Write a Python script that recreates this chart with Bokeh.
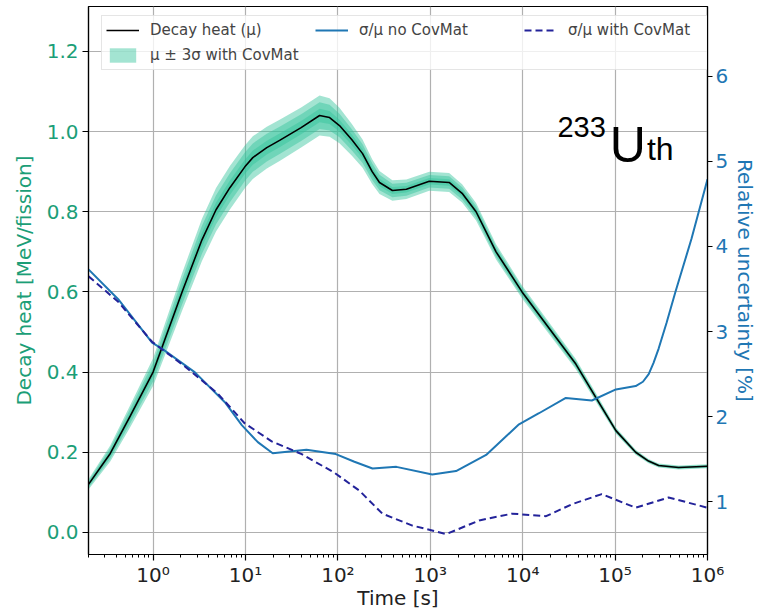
import numpy as np
from bokeh.plotting import figure
from bokeh.models import (Range1d, LinearAxis, FixedTicker, PrintfTickFormatter,
                          Legend, LegendItem, Label)
from bokeh.embed import file_html
from bokeh.resources import INLINE

# ---------------- data ----------------
time_heat = [0.2, 0.344, 0.565, 1.0, 2.06, 3.38, 4.8, 6.78, 9.84, 12, 17, 23.4, 40, 63.4, 81.3,
             104, 141, 185, 235, 282, 389, 551, 975, 1600, 2210, 3130, 5150, 9840, 20700,
             37600, 61800, 102000, 167000, 230000, 296000, 486000, 1000000]
decay_heat = [0.12, 0.197, 0.29, 0.40, 0.60, 0.73, 0.805, 0.86, 0.912, 0.935, 0.96, 0.978, 1.01,
              1.04, 1.035, 1.015, 0.98, 0.945, 0.90, 0.873, 0.853, 0.856, 0.876, 0.873, 0.846,
              0.80, 0.70, 0.60, 0.50, 0.42, 0.337, 0.254, 0.20, 0.178, 0.167, 0.162, 0.165]
# relative 1-sigma (%) used for the shaded band
heat_rel_sigma = [3.6, 3.4, 3.15, 2.9, 2.6, 2.4, 2.25, 2.1, 1.95, 1.9, 1.8, 1.75, 1.65, 1.6, 1.55,
                  1.45, 1.35, 1.25, 1.15, 1.1, 1.0, 0.95, 0.9, 0.9, 0.9, 0.9, 0.9, 0.9,
                  0.95, 1.0, 1.05, 1.05, 1.0, 1.0, 1.0, 1.0, 1.0]

time_nocov = [0.2, 0.419, 0.975, 1.28, 2.84, 5.98, 9.12, 13.6, 19.7, 45.7, 95, 151, 237,
              430, 1050, 1900, 4020, 9120, 15000, 29300, 56000, 102000, 167000, 200000,
              231000, 260000, 296000, 360000, 451000, 671000, 1000000]
sigma_nocov = [3.73, 3.38, 2.87, 2.79, 2.52, 2.17, 1.90, 1.70, 1.57, 1.61, 1.56, 1.47, 1.39,
               1.41, 1.32, 1.36, 1.55, 1.91, 2.04, 2.22, 2.19, 2.32, 2.36, 2.41,
               2.50, 2.63, 2.80, 3.10, 3.47, 4.09, 4.79]

time_cov = [0.2, 0.419, 0.975, 2.21, 5.02, 9.84, 19.2, 40.6, 92, 171, 303, 640, 1490, 3380,
            7670, 17900, 34000, 71800, 167000, 379000, 1000000]
sigma_cov = [3.65, 3.35, 2.88, 2.59, 2.27, 1.92, 1.71, 1.56, 1.34, 1.13, 0.86, 0.72, 0.62,
             0.78, 0.86, 0.83, 0.97, 1.09, 0.93, 1.05, 0.93]

x_ticks = [1, 10, 100, 1000, 10000, 100000, 1000000]
x_tick_labels = ["10⁰", "10¹", "10²", "10³", "10⁴", "10⁵", "10⁶"]
left_ticks = [0.0, 0.2, 0.4, 0.6, 0.8, 1.0, 1.2]
right_ticks = [1, 2, 3, 4, 5, 6]

# ---------------- styling ----------------
GREEN = "#1b9e77"
BLUE = "#1f77b4"
NAVY = "#23239a"
BAND = "#32c39b"
FONT = "DejaVu Sans"

th = np.array(time_heat)
mu = np.array(decay_heat)
rs = np.array(heat_rel_sigma) / 100.0

minor = [k * 10.0 ** e for e in range(-1, 6) for k in range(2, 10) if 0.2 <= k * 10.0 ** e <= 1e6]

p = figure(width=760, height=613, x_axis_type="log",
           x_range=Range1d(0.2, 1e6), y_range=Range1d(-0.055, 1.312),
           output_backend="svg", toolbar_location=None,
           min_border_left=88, min_border_right=51, min_border_top=6, min_border_bottom=59)
p.extra_y_ranges = {"rel": Range1d(0.38, 6.82)}

p.outline_line_color = "black"
p.outline_line_width = 1.2
p.background_fill_color = "white"

# grid
p.xgrid.grid_line_color = "#b0b0b0"
p.xgrid.grid_line_width = 1.2
p.ygrid.grid_line_color = "#b0b0b0"
p.ygrid.grid_line_width = 1.2

# x axis
xa = p.xaxis[0]
xa.ticker = FixedTicker(ticks=x_ticks, minor_ticks=minor)
xa.major_label_overrides = {t: l for t, l in zip(x_ticks, x_tick_labels)}
xa.axis_label = "Time [s]"

# left axis
ya = p.yaxis[0]
ya.ticker = FixedTicker(ticks=left_ticks)
ya.formatter = PrintfTickFormatter(format="%.1f")
ya.axis_label = "Decay heat [MeV/fission]"
ya.axis_label_text_color = GREEN
ya.major_label_text_color = GREEN

# right axis
ra = LinearAxis(y_range_name="rel", ticker=FixedTicker(ticks=right_ticks),
                axis_label="Relative uncertainty [%]")
ra.axis_label_text_color = BLUE
ra.major_label_text_color = BLUE
p.add_layout(ra, "right")

for ax in [xa, ya, ra]:
    ax.axis_line_color = "black"
    ax.axis_line_width = 1.2
    ax.major_tick_line_color = "black"
    ax.major_tick_line_width = 1.2
    ax.minor_tick_line_color = "black"
    ax.major_tick_in = 0
    ax.major_tick_out = 6
    ax.minor_tick_in = 0
    ax.minor_tick_out = 3
    ax.major_label_text_font = FONT
    ax.major_label_text_font_size = "20px"
    ax.axis_label_text_font = FONT
    ax.axis_label_text_font_size = "20px"
    ax.axis_label_text_font_style = "normal"
    ax.major_label_standoff = 4
    ax.axis_label_standoff = 3
xa.major_label_text_color = "#222222"
xa.axis_label_text_color = "#222222"
xa.major_label_standoff = 2
xa.axis_label_standoff = -4
ra.major_tick_out = 5
ra.major_label_standoff = 3
ra.axis_label_standoff = 2
ya.axis_label_standoff = 8

# band: mu +- 1,2,3 sigma
band_renderers = []
for k in [3, 2, 1]:
    r = p.varea(x=th, y1=mu * (1 - k * rs), y2=mu * (1 + k * rs),
                fill_color=BAND, fill_alpha=0.45)
    band_renderers.append(r)

r_heat = p.line(time_heat, decay_heat, line_color="black", line_width=1.6)
r_nocov = p.line(time_nocov, sigma_nocov, line_color=BLUE, line_width=2,
                 y_range_name="rel")
r_cov = p.line(time_cov, sigma_cov, line_color=NAVY, line_width=2, line_dash="7 4",
               y_range_name="rel")

legend = Legend(items=[
    LegendItem(label="Decay heat (μ)", renderers=[r_heat]),
    LegendItem(label="σ/μ no CovMat", renderers=[r_nocov]),
    LegendItem(label="σ/μ with CovMat", renderers=[r_cov]),
    LegendItem(label="μ ± 3σ with CovMat", renderers=[band_renderers[0]]),
], orientation="horizontal", ncols=3, location=(13, 484))
legend.label_text_font = FONT
legend.label_text_font_size = "15px"
legend.glyph_width = 33
legend.glyph_height = 18
legend.label_height = 20
legend.label_width = 160
legend.label_standoff = 11
legend.spacing = 5
legend.padding = 4
legend.margin = 0
legend.background_fill_alpha = 0.8
legend.border_line_color = "#cccccc"
legend.border_line_width = 1
p.add_layout(legend)

# isotope annotation 233U_th
lab_font = "Liberation Sans"
p.add_layout(Label(x=10 ** 4.90, y=1.011, text="233", text_font=lab_font,
                   text_font_size="29px", text_align="right", text_baseline="alphabetic",
                   text_color="black"))
p.add_layout(Label(x=10 ** 4.943, y=0.966, text="U", text_font=lab_font,
                   text_font_size="50px", text_align="left", text_baseline="alphabetic",
                   text_color="black"))
p.add_layout(Label(x=10 ** 5.345, y=0.957, text="th", text_font=lab_font,
                   text_font_size="32px", text_align="left", text_baseline="alphabetic",
                   text_color="black"))

open("out.html", "w").write(file_html(p, INLINE))
